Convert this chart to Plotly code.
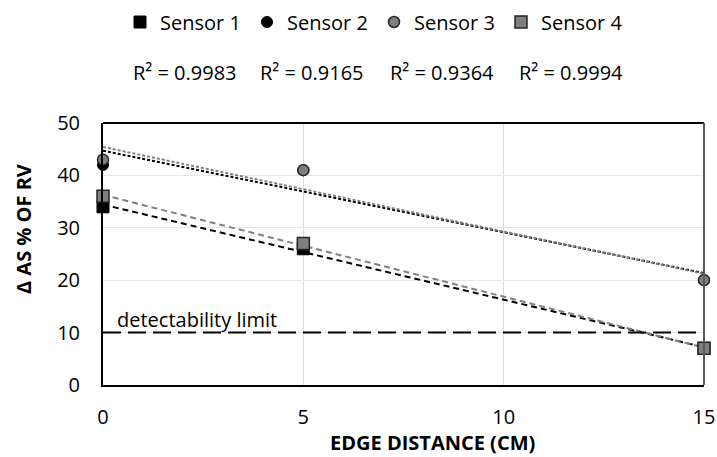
import numpy as np
import plotly.graph_objects as go

edge = [0, 5, 15]
sensor1 = [34, 26, 7]
sensor2 = [42, 41, 20]
sensor3 = [43, 41, 20]
sensor4 = [36, 27, 7]
names = ["Sensor 1", "Sensor 2", "Sensor 3", "Sensor 4"]
r2_text = ["0.9983", "0.9165", "0.9364", "0.9994"]
limit = 10

FONT = "Open Sans"
W, H = 717, 457
L, R, T, B = 103, 13, 123, 72
PW = W - L - R
PH = H - T - B


def px_x(p):
    return (p - L) / PW


def px_y(p):
    return (H - B - p) / PH


fig = go.Figure()

series = [sensor1, sensor2, sensor3, sensor4]
mk = [
    dict(symbol="square", size=12, color="#000000", line=dict(color="#000000", width=1)),
    dict(symbol="circle", size=11, color="#000000", line=dict(color="#000000", width=1)),
    dict(symbol="circle", size=11, color="#808080", line=dict(color="#262626", width=1.5)),
    dict(symbol="square", size=12, color="#7f7f7f", line=dict(color="#262626", width=1.5)),
]
trend_style = [
    dict(color="#000000", dash="6px,4px", width=2),
    dict(color="#000000", dash="3px,2px", width=2),
    dict(color="#808080", dash="3px,2px", width=2),
    dict(color="#808080", dash="6px,4px", width=2),
]

xs = np.array([0, 15])
for ys, st in zip(series, trend_style):
    m, b = np.polyfit(edge, ys, 1)
    fig.add_trace(go.Scatter(x=xs, y=m * xs + b, mode="lines", line=st,
                             showlegend=False, hoverinfo="skip", cliponaxis=False))

fig.add_trace(go.Scatter(x=[0, 15], y=[limit, limit], mode="lines",
                         line=dict(color="#000000", dash="18px,7px", width=2),
                         showlegend=False))

for ys, nm, m in zip(series, names, mk):
    fig.add_trace(go.Scatter(x=edge, y=ys, mode="markers", name=nm, marker=m,
                             cliponaxis=False))

fig.add_annotation(x=0.3, y=limit, xref="x", yref="y", text="detectability limit",
                   showarrow=False, xanchor="left", yanchor="bottom", yshift=-2,
                   font=dict(family=FONT, size=20, color="#000000"))

r2_left = [131, 258, 388, 517]
for t, xp in zip(r2_text, r2_left):
    fig.add_annotation(x=px_x(xp), y=px_y(72), xref="paper", yref="paper",
                       text="R² = " + t, showarrow=False, xanchor="left", yanchor="middle",
                       font=dict(family=FONT, size=20, color="#000000"))

# axis titles
fig.add_annotation(x=px_x(432), y=px_y(442), xref="paper", yref="paper",
                   text="<b>EDGE DISTANCE (CM)</b>", showarrow=False,
                   xanchor="center", yanchor="middle",
                   font=dict(family=FONT, size=20, color="#000000"))
fig.add_annotation(x=px_x(23), y=px_y(229), xref="paper", yref="paper",
                   text="<b>Δ AS % OF RV</b>", showarrow=False, textangle=-90,
                   xanchor="center", yanchor="middle",
                   font=dict(family=FONT, size=20, color="#000000"))

# frame lines
fig.add_shape(type="line", xref="paper", yref="paper", x0=0, x1=1, y0=1, y1=1,
              line=dict(color="#000000", width=2))
fig.add_shape(type="line", xref="paper", yref="paper", x0=1, x1=1, y0=0, y1=1,
              line=dict(color="#595959", width=2))

fig.update_layout(
    width=W, height=H,
    margin=dict(l=L, r=R, t=T, b=B, autoexpand=False),
    paper_bgcolor="white", plot_bgcolor="white",
    font=dict(family=FONT, size=20, color="#000000"),
    legend=dict(orientation="h", x=px_x(120), xanchor="left", y=px_y(22), yanchor="middle",
                font=dict(family=FONT, size=20), itemwidth=30,
                entrywidth=82, entrywidthmode="pixels"),
    xaxis=dict(range=[0, 15], tickvals=[0, 5, 10, 15], showgrid=True, automargin=False,
               gridcolor="#d9d9d9", gridwidth=1, showline=True, linecolor="#000000",
               linewidth=2, zeroline=False, ticks="outside", ticklen=13, tickcolor="white",
               tickfont=dict(size=20)),
    yaxis=dict(range=[0, 50], tickvals=[0, 10, 20, 30, 40, 50], showgrid=True, automargin=False,
               gridcolor="#e6e6e6", gridwidth=1, showline=True, linecolor="#000000",
               linewidth=2, zeroline=False, ticks="outside", ticklen=17, tickcolor="white",
               tickfont=dict(size=20)),
)

fig.write_html("out.html")
